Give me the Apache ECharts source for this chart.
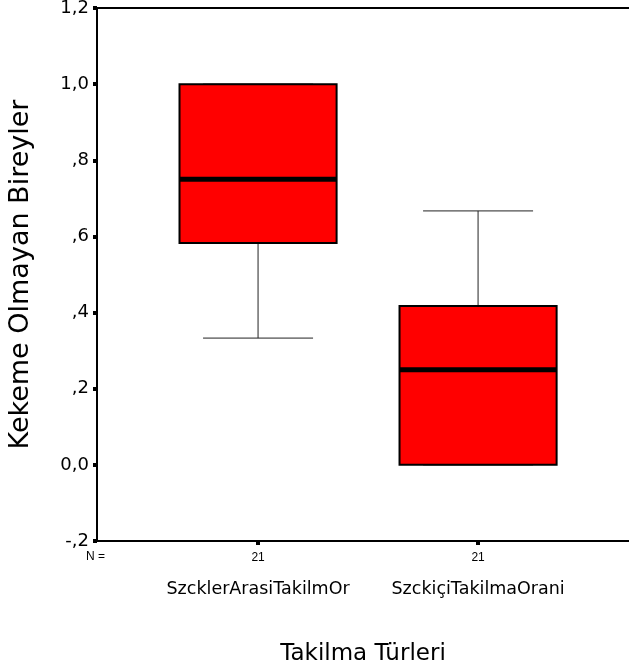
<!DOCTYPE html>
<html>
<head>
<meta charset="utf-8">
<script src="https://cdn.jsdelivr.net/npm/echarts@6/dist/echarts.min.js"></script>
<style>
  html, body { margin: 0; padding: 0; background: #fff; }
  #chart { width: 629px; height: 671px; }
</style>
</head>
<body>
<div id="chart"></div>
<script>
// Groups along the x axis
const categories = ['SzcklerArasiTakilmOr', 'SzckiçiTakilmaOrani'];
const groupCounts = [21, 21];
// Five-number summaries: [lower whisker, Q1, median, Q3, upper whisker]
const lowerWhisker = [0.333, 0.0];
const q1Values = [0.583, 0.0];
const medianValues = [0.75, 0.25];
const q3Values = [1.0, 0.417];
const upperWhisker = [1.0, 0.667];
// Y tick labels in the Turkish decimal style
const yTickValues = [-0.2, 0, 0.2, 0.4, 0.6, 0.8, 1.0, 1.2];
const yTickLabels = ['-,2', '0,0', ',2', ',4', ',6', ',8', '1,0', '1,2'];

const FONT = '"DejaVu Sans", sans-serif';
const SMALL_FONT = '"Liberation Sans", Arial, sans-serif';
const X_MIN = 0.268;
const X_MAX = 2.686;

const boxData = categories.map((c, i) => [
  i + 1, lowerWhisker[i], q1Values[i], medianValues[i], q3Values[i], upperWhisker[i]
]);

function renderBox(params, api) {
  const x = api.value(0);
  const pLow = api.coord([x, api.value(1)]);
  const pQ1 = api.coord([x, api.value(2)]);
  const pMed = api.coord([x, api.value(3)]);
  const pQ3 = api.coord([x, api.value(4)]);
  const pHigh = api.coord([x, api.value(5)]);
  const boxHalf = api.size([0.357, 0])[0];
  const capHalf = api.size([0.25, 0])[0];
  const cx = pMed[0];
  const whisker = { stroke: '#222', lineWidth: 1 };
  return {
    type: 'group',
    children: [
      { type: 'line', shape: { x1: cx, y1: pQ3[1], x2: cx, y2: pHigh[1] }, style: whisker },
      { type: 'line', shape: { x1: cx - capHalf, y1: pHigh[1], x2: cx + capHalf, y2: pHigh[1] }, style: whisker },
      { type: 'line', shape: { x1: cx, y1: pQ1[1], x2: cx, y2: pLow[1] }, style: whisker },
      { type: 'line', shape: { x1: cx - capHalf, y1: pLow[1], x2: cx + capHalf, y2: pLow[1] }, style: whisker },
      {
        type: 'rect',
        shape: { x: cx - boxHalf, y: pQ3[1], width: boxHalf * 2, height: pQ1[1] - pQ3[1] },
        style: { fill: '#ff0000', stroke: '#000', lineWidth: 2 }
      },
      { type: 'line', shape: { x1: cx - boxHalf, y1: pMed[1], x2: cx + boxHalf, y2: pMed[1] },
        style: { stroke: '#000', lineWidth: 5 } }
    ]
  };
}

const chart = echarts.init(document.getElementById('chart'), null, { renderer: 'canvas' });
chart.setOption({
  animation: false,
  backgroundColor: '#fff',
  grid: {
    left: 97, top: 8, right: 0, bottom: 130,
    containLabel: false,
    outerBoundsMode: 'none'
  },
  xAxis: [{
    type: 'value',
    min: X_MIN, max: X_MAX,
    splitLine: { show: false },
    axisLine: { show: true, onZero: false, lineStyle: { color: '#000', width: 2 } },
    axisTick: { show: true, customValues: [1, 2], length: 4, lineStyle: { color: '#000', width: 4 } },
    axisLabel: {
      show: true,
      customValues: [1, 2],
      margin: 10,
      formatter: v => {
        const i = Math.round(v) - 1;
        return '{n|' + groupCounts[i] + '}\n{c|' + categories[i] + '}';
      },
      rich: {
        n: { fontFamily: SMALL_FONT, fontSize: 12, color: '#000', lineHeight: 14 },
        c: { fontFamily: FONT, fontSize: 17.5, color: '#000', lineHeight: 48 }
      }
    },
    name: 'Takilma Türleri',
    nameLocation: 'middle',
    nameGap: 102,
    nameTextStyle: { fontFamily: FONT, fontSize: 23, color: '#000' }
  }, {
    // top frame line
    type: 'value',
    position: 'top',
    min: X_MIN, max: X_MAX,
    splitLine: { show: false },
    axisLine: { show: true, onZero: false, lineStyle: { color: '#000', width: 2 } },
    axisTick: { show: false },
    axisLabel: { show: false }
  }],
  yAxis: {
    type: 'value',
    min: -0.2, max: 1.2, interval: 0.2,
    splitLine: { show: false },
    axisLine: { show: true, onZero: false, lineStyle: { color: '#000', width: 2 } },
    axisTick: { show: true, length: 4, lineStyle: { color: '#000', width: 4 } },
    axisLabel: {
      fontFamily: FONT, fontSize: 18, color: '#000', margin: 8,
      formatter: v => {
        const i = yTickValues.findIndex(t => Math.abs(t - v) < 1e-6);
        return i >= 0 ? yTickLabels[i] : '';
      }
    },
    name: 'Kekeme Olmayan Bireyler',
    nameLocation: 'middle',
    nameGap: 63,
    nameRotate: 90,
    nameTextStyle: { fontFamily: FONT, fontSize: 27, color: '#000' }
  },
  graphic: [
    {
      type: 'text', left: 86, top: 551,
      style: { text: 'N =', fontFamily: SMALL_FONT, fontSize: 12, fill: '#000' }
    }
  ],
  series: [{
    type: 'custom',
    renderItem: renderBox,
    data: boxData,
    xAxisIndex: 0,
    encode: { x: 0, y: [1, 2, 3, 4, 5] },
    clip: false
  }]
});
</script>
</body>
</html>
